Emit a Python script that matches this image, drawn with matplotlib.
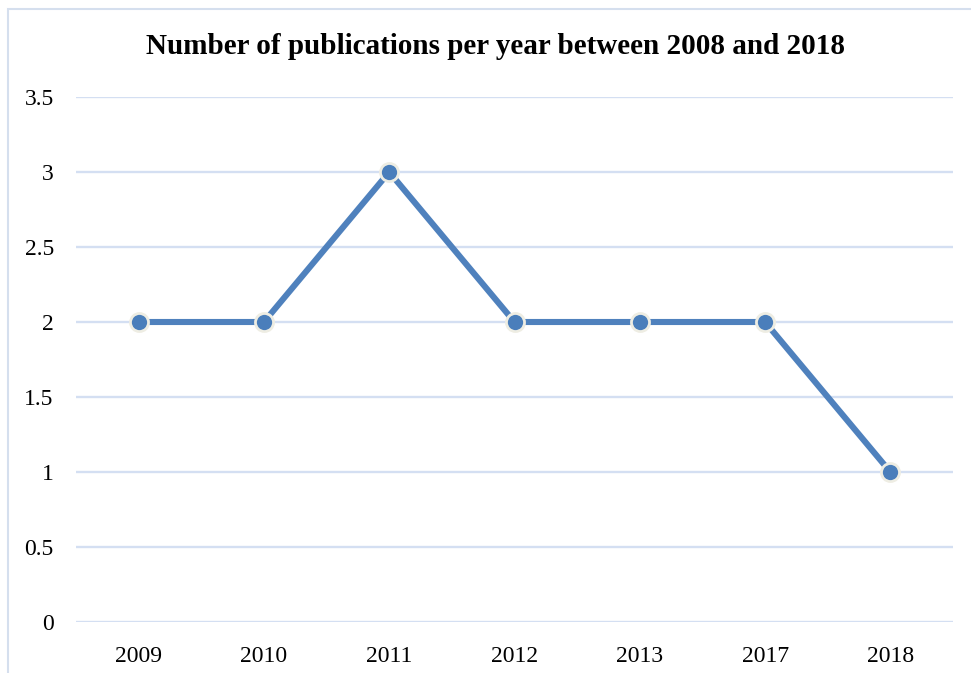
import matplotlib
matplotlib.use("Agg")
import matplotlib.pyplot as plt
from matplotlib.patches import Rectangle

years = ["2009", "2010", "2011", "2012", "2013", "2017", "2018"]
publications = [2, 2, 3, 2, 2, 2, 1]
y_ticks = [0, 0.5, 1, 1.5, 2, 2.5, 3, 3.5]
y_tick_labels = ["0", "0.5", "1", "1.5", "2", "2.5", "3", "3.5"]

W, H = 971, 673
fig = plt.figure(figsize=(W / 100, H / 100), dpi=100)
plt.rcParams["font.family"] = ["Liberation Serif", "DejaVu Serif"]

# outer chart frame
fig.patches.append(Rectangle((8 / W, -0.1), 1.2, (H - 9.5) / H + 0.1,
                             transform=fig.transFigure, fill=False,
                             edgecolor="#D5DFEE", linewidth=1.5))

ax = fig.add_axes([76 / W, 1 - 622 / H, (953 - 76) / W, (622 - 97) / H])
x = list(range(len(years)))
ax.plot(x, publications, color="#4F81BD", linewidth=4.4,
        marker="o", markersize=13, markerfacecolor="#4A7EBB",
        markeredgecolor="#EEEDE3", markeredgewidth=2.0,
        solid_capstyle="round", zorder=3, clip_on=False)

ax.set_xlim(-0.5, len(years) - 0.5)
ax.set_ylim(0, 3.5)
ax.set_yticks(y_ticks)
ax.set_yticklabels(y_tick_labels)
ax.set_xticks(x)
ax.set_xticklabels(years)
ax.yaxis.grid(True, color="#D4DFF2", linewidth=1.7)
ax.set_axisbelow(True)
for s in ax.spines.values():
    s.set_visible(False)
ax.tick_params(axis="both", length=0, labelsize=17, colors="#000000")
ax.tick_params(axis="y", pad=16)
ax.tick_params(axis="x", pad=17)

fig.text(495 / W, 1 - 47 / H, "Number of publications per year between 2008 and 2018",
         ha="center", va="center", fontsize=21, fontweight="bold")

fig.savefig("out.png", dpi=100, facecolor="white")
